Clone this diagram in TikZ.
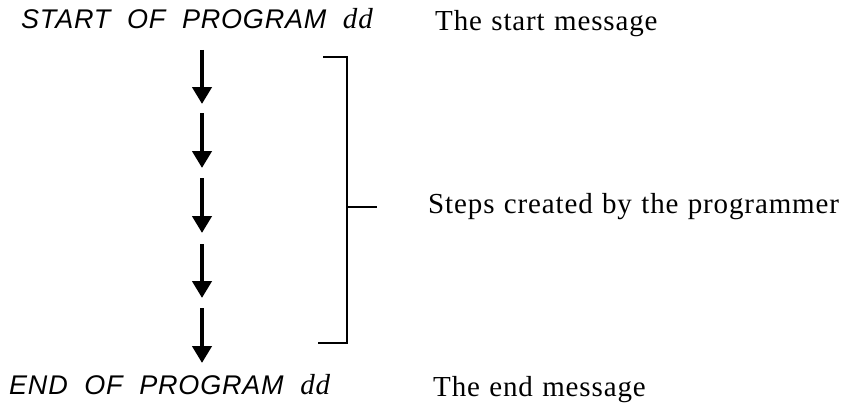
\documentclass[tikz,border=0pt]{standalone}
\usepackage{fontspec}
\setmainfont{Liberation Serif}
\newfontfamily\progfont[LetterSpace=3,WordSpace=2.0]{Liberation Sans}
\newfontfamily\ddfont[LetterSpace=3]{Liberation Serif}
\newfontfamily\notefont[LetterSpace=3,WordSpace=1.15]{Liberation Serif}
\usetikzlibrary{arrows.meta}
\tikzset{
  progtext/.style={anchor=base west, inner sep=0pt, font=\fontsize{27}{31}\selectfont\progfont\itshape},
  ddtext/.style={font=\fontsize{29}{33}\selectfont\ddfont\itshape},
  notetext/.style={anchor=base west, inner sep=0pt, font=\fontsize{29}{33}\selectfont\notefont},
  steparrow/.style={line width=4.5pt, -{Triangle[width=19pt,length=17pt]}},
  bracketline/.style={line width=2pt}
}
\newcommand\ddword{{\fontsize{29}{33}\selectfont\ddfont\itshape dd}}
\begin{document}
\begin{tikzpicture}[x=1pt,y=-1pt]
\useasboundingbox (0,0) rectangle (850,404);
% texts
\node[progtext] (start) at (21,29) {START OF PROGRAM \ddword};
\node[progtext] (end) at (9,394) {END OF PROGRAM \ddword};
\node[notetext] (startmsg) at (435,31) {The start message};
\node[notetext] (endmsg) at (433,396) {The end message};
\node[notetext] (steps) at (428,213) {Steps created by the programmer};
% step arrows
\foreach \i/\a/\b in {1/50/104,2/113/168,3/178/233,4/244/298,5/308/363}{
  \coordinate (a\i) at (202,\a);
  \coordinate (b\i) at (202,\b);
  \draw[steparrow] (a\i) -- (b\i);
}
% bracket
\coordinate (bt) at (323,57);
\coordinate (btr) at (347,57);
\coordinate (bb) at (318,343);
\coordinate (bbr) at (347,343);
\coordinate (bm) at (347,207);
\coordinate (bmt) at (377,207);
\draw[bracketline] (bt) -- (btr) -- (bbr) -- (bb);
\draw[bracketline] (bm) -- (bmt);
\end{tikzpicture}
\end{document}
